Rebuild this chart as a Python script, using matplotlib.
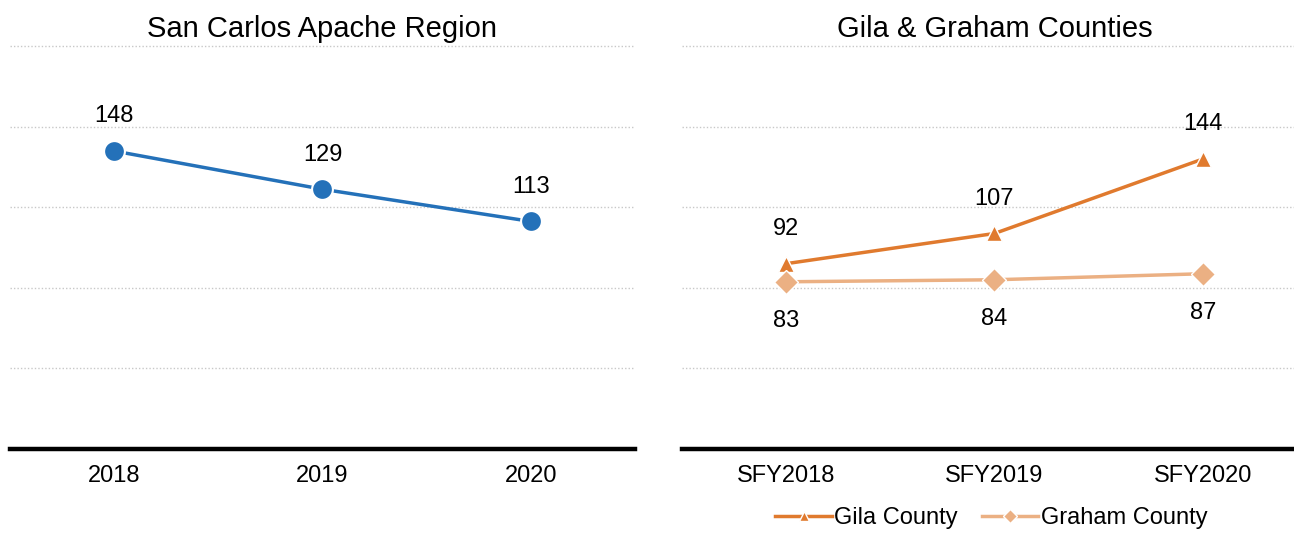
import matplotlib.pyplot as plt

plt.rcParams['font.family'] = ['Liberation Sans', 'DejaVu Sans']

# left panel data
region_years = ["2018", "2019", "2020"]
region_vals = [148, 129, 113]

# right panel data
sfy_labels = ["SFY2018", "SFY2019", "SFY2020"]
gila_vals = [92, 107, 144]
graham_vals = [83, 84, 87]

blue = "#2471B9"
orange = "#E07A2E"
peach = "#EBB083"

fig = plt.figure(figsize=(12.94, 5.33), dpi=100)
ax1 = fig.add_axes([0.0077, 0.158, 0.483, 0.755])
ax2 = fig.add_axes([0.527, 0.158, 0.483, 0.755])


def style(ax, labels, title):
    ax.set_ylim(0, 200)
    ax.set_xlim(-0.5, 2.5)
    for y in [40, 80, 120, 160, 200]:
        ax.axhline(y, color="#c8c8c8", lw=1, ls=(0, (1, 1.5)), zorder=0, clip_on=False)
    ax.axhline(0, color="black", lw=3.2, zorder=1, clip_on=False)
    for s in ax.spines.values():
        s.set_visible(False)
    ax.set_yticks([])
    ax.set_xticks(range(len(labels)))
    ax.set_xticklabels(labels, fontsize=17)
    ax.tick_params(axis="x", length=0, pad=12)
    ax.set_title(title, fontsize=21, pad=7)


def label(ax, i, v, dy):
    ax.annotate(str(v), (i, v), xytext=(0, dy), textcoords="offset points",
                ha="center", va="center", fontsize=17)


style(ax1, region_years, "San Carlos Apache Region")
x = range(len(region_vals))
ax1.plot(x, region_vals, color=blue, lw=2.5, marker="o", ms=15,
         markeredgecolor="white", markeredgewidth=1.5, zorder=3, clip_on=False)
for i, v in enumerate(region_vals):
    label(ax1, i, v, 25)

style(ax2, sfy_labels, "Gila & Graham Counties")
x = range(len(gila_vals))
ax2.plot(x, gila_vals, color=orange, lw=2.5, marker="^", ms=11,
         markeredgecolor="white", markeredgewidth=1, zorder=3, label="Gila County")
ax2.plot(x, graham_vals, color=peach, lw=2.5, marker="D", ms=12,
         markeredgecolor="white", markeredgewidth=1, zorder=3, label="Graham County")
for i, v in enumerate(gila_vals):
    label(ax2, i, v, 25)
for i, v in enumerate(graham_vals):
    label(ax2, i, v, -28.5)

handles, labels = ax2.get_legend_handles_labels()
fig.legend(handles, labels, loc="center", bbox_to_anchor=(0.766, 0.028),
           ncol=2, frameon=False, fontsize=17, handlelength=2.4,
           columnspacing=1.0, handletextpad=0.1, markerscale=0.6)

fig.savefig("out.png", dpi=100)
